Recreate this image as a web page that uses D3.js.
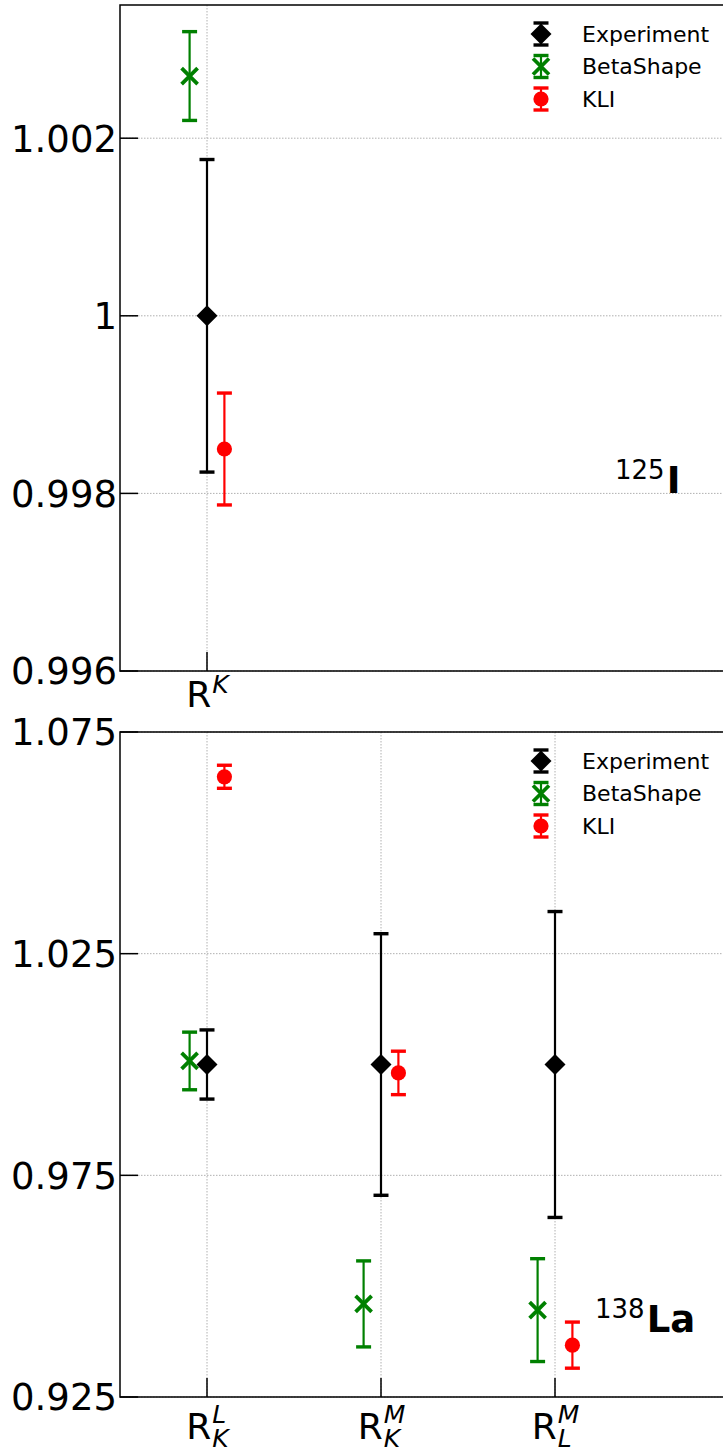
<!DOCTYPE html>
<html><head><meta charset="utf-8">
<script src="https://cdn.jsdelivr.net/npm/d3@7"></script>
<style>body{margin:0;background:#fff} svg{display:block}</style>
</head><body>
<svg id="chart" width="723" height="1453"></svg>
<script>
// ---------- DATA ----------
const topCategories = ["R^K"];
const bottomCategories = ["R_K^L", "R_K^M", "R_L^M"];

const topExperiment = [1.0000];
const topExperimentErr = [0.00176];
const topBetaShape = [1.0027];
const topBetaShapeErr = [0.0005];
const topKLI = [0.9985];
const topKLIErr = [0.00063];

const bottomExperiment = [1.000, 1.000, 1.000];
const bottomExperimentErr = [0.0078, 0.0295, 0.0345];
const bottomBetaShape = [1.0008, 0.9460, 0.9446];
const bottomBetaShapeErr = [0.0065, 0.0097, 0.0116];
const bottomKLI = [1.0649, 0.9981, 0.9367];
const bottomKLIErr = [0.0026, 0.0049, 0.0052];

const topYTicks = [0.996, 0.998, 1.000, 1.002];
const topYTickLabels = ["0.996", "0.998", "1", "1.002"];
const bottomYTicks = [0.925, 0.975, 1.025, 1.075];
const bottomYTickLabels = ["0.925", "0.975", "1.025", "1.075"];

const legendLabels = ["Experiment", "BetaShape", "KLI"];
const topNucleus = {mass: "125", symbol: "I", x: 2.345, y: 0.998};
const bottomNucleus = {mass: "138", symbol: "La", x: 2.23, y: 0.9397};

// ---------- STYLE ----------
const FONT = "DejaVu Sans";
const seriesStyle = [
  {name: "Experiment", color: "#000000", marker: "diamond", offset: 0},
  {name: "BetaShape", color: "#008000", marker: "x", offset: -0.1},
  {name: "KLI", color: "#ff0000", marker: "circle", offset: 0.1}
];

const svg = d3.select("#chart");
const x = d3.scaleLinear().domain([-0.5, 3]).range([120, 729]);

function drawMarker(g, type, color, cx, cy) {
  if (type === "diamond") {
    const s = 10.5;
    g.append("path").attr("d", `M${cx},${cy - s}L${cx + s},${cy}L${cx},${cy + s}L${cx - s},${cy}Z`)
      .attr("fill", color);
  } else if (type === "x") {
    const s = 8;
    g.append("path").attr("d", `M${cx - s},${cy - s}L${cx + s},${cy + s}M${cx - s},${cy + s}L${cx + s},${cy - s}`)
      .attr("stroke", color).attr("stroke-width", 3.8).attr("fill", "none");
  } else {
    g.append("circle").attr("cx", cx).attr("cy", cy).attr("r", 7.6).attr("fill", color);
  }
}

function drawErrorbar(g, color, cx, y0, y1, capW) {
  g.append("line").attr("x1", cx).attr("x2", cx).attr("y1", y0).attr("y2", y1)
    .attr("stroke", color).attr("stroke-width", 2.2);
  [y0, y1].forEach(yy => g.append("line").attr("x1", cx - capW / 2).attr("x2", cx + capW / 2)
    .attr("y1", yy).attr("y2", yy).attr("stroke", color).attr("stroke-width", 3.4));
}

function mathLabel(g, cx, baseY, label) {
  let sub = null, sup = null;
  const mSub = label.match(/_([A-Za-z])/), mSup = label.match(/\^([A-Za-z])/);
  if (mSub) sub = mSub[1];
  if (mSup) sup = mSup[1];
  const base = label.replace(/[_^][A-Za-z]/g, "");
  const tb = g.append("text").attr("font-family", FONT).attr("font-size", 36).attr("y", baseY).text(base);
  const wb = tb.node().getComputedTextLength();
  const parts = [];
  if (sup) parts.push(g.append("text").attr("font-family", FONT).attr("font-style", "italic").attr("font-size", 25)
    .attr("y", baseY - (sub ? 16 : 14)).text(sup));
  if (sub) parts.push(g.append("text").attr("font-family", FONT).attr("font-style", "italic").attr("font-size", 25)
    .attr("y", baseY + 8).text(sub));
  const ws = d3.max(parts, p => p.node().getComputedTextLength()) || 0;
  const start = cx - (wb + ws) / 2;
  tb.attr("x", start);
  parts.forEach(p => p.attr("x", start + wb + 1));
}

function drawPanel(cfg) {
  const g = svg.append("g");
  const y = d3.scaleLinear().domain(cfg.domain).range([cfg.bottom, cfg.top]);
  const xTicks = cfg.categories.map((c, i) => i);

  // grid
  g.selectAll(".hg").data(cfg.yTicks).join("line")
    .attr("x1", x.range()[0]).attr("x2", x.range()[1])
    .attr("y1", d => y(d)).attr("y2", d => y(d))
    .attr("stroke", "#b0b0b0").attr("stroke-width", 1).attr("stroke-dasharray", "1.5,1.5");
  g.selectAll(".vg").data(xTicks).join("line")
    .attr("x1", d => x(d)).attr("x2", d => x(d))
    .attr("y1", cfg.top).attr("y2", cfg.bottom)
    .attr("stroke", "#b0b0b0").attr("stroke-width", 1).attr("stroke-dasharray", "1.5,1.5");

  // frame
  g.append("rect").attr("x", x.range()[0]).attr("y", cfg.top)
    .attr("width", x.range()[1] - x.range()[0]).attr("height", cfg.bottom - cfg.top)
    .attr("fill", "none").attr("stroke", "#000").attr("stroke-width", 1.5);

  // ticks (inward)
  g.selectAll(".yt").data(cfg.yTicks).join("line")
    .attr("x1", x.range()[0]).attr("x2", x.range()[0] + 18)
    .attr("y1", d => y(d)).attr("y2", d => y(d)).attr("stroke", "#000").attr("stroke-width", 1.5);
  g.selectAll(".xt").data(xTicks).join("line")
    .attr("x1", d => x(d)).attr("x2", d => x(d))
    .attr("y1", cfg.bottom).attr("y2", cfg.bottom - 19).attr("stroke", "#000").attr("stroke-width", 1.5);

  // y tick labels
  g.selectAll(".yl").data(cfg.yTicks).join("text")
    .attr("x", x.range()[0] - 3).attr("y", d => y(d)).attr("dy", "0.36em")
    .attr("text-anchor", "end").attr("font-family", FONT).attr("font-size", 37)
    .text((d, i) => cfg.yTickLabels[i]);

  // x tick labels
  cfg.categories.forEach((c, i) => mathLabel(g, x(i), cfg.bottom + cfg.labelDy, c));

  // series
  cfg.series.forEach((s, si) => {
    const st = seriesStyle[si];
    const sg = g.append("g");
    s.values.forEach((v, i) => {
      const cx = x(i + st.offset);
      drawErrorbar(sg, st.color, cx, y(v + s.errs[i]), y(v - s.errs[i]), 15);
      drawMarker(sg, st.marker, st.color, cx, y(v));
    });
  });

  // legend
  const lg = g.append("g");
  legendLabels.forEach((lab, i) => {
    const st = seriesStyle[i];
    const ly = cfg.top + 29 + i * 32.5;
    drawErrorbar(lg, st.color, 541, ly - 11, ly + 11, 15);
    drawMarker(lg, st.marker, st.color, 541, ly);
    lg.append("text").attr("x", 582).attr("y", ly).attr("dy", "0.36em")
      .attr("font-family", FONT).attr("font-size", 22).text(lab);
  });

  // nucleus annotation
  const n = cfg.nucleus;
  const t = g.append("text").attr("x", x(n.x)).attr("y", y(n.y)).attr("font-family", FONT);
  t.append("tspan").attr("font-size", 26).attr("dy", -14).text(n.mass);
  t.append("tspan").attr("font-size", 37).attr("font-weight", "bold").attr("dy", 14).attr("dx", 2).text(n.symbol);
}

drawPanel({
  top: 5, bottom: 671, domain: [0.996, 1.0035],
  categories: topCategories, yTicks: topYTicks, yTickLabels: topYTickLabels,
  labelDy: 36,
  series: [
    {values: topExperiment, errs: topExperimentErr},
    {values: topBetaShape, errs: topBetaShapeErr},
    {values: topKLI, errs: topKLIErr}
  ],
  nucleus: topNucleus
});

drawPanel({
  top: 732, bottom: 1397, domain: [0.925, 1.075],
  categories: bottomCategories, yTicks: bottomYTicks, yTickLabels: bottomYTickLabels,
  labelDy: 42,
  series: [
    {values: bottomExperiment, errs: bottomExperimentErr},
    {values: bottomBetaShape, errs: bottomBetaShapeErr},
    {values: bottomKLI, errs: bottomKLIErr}
  ],
  nucleus: bottomNucleus
});
</script>
</body></html>
